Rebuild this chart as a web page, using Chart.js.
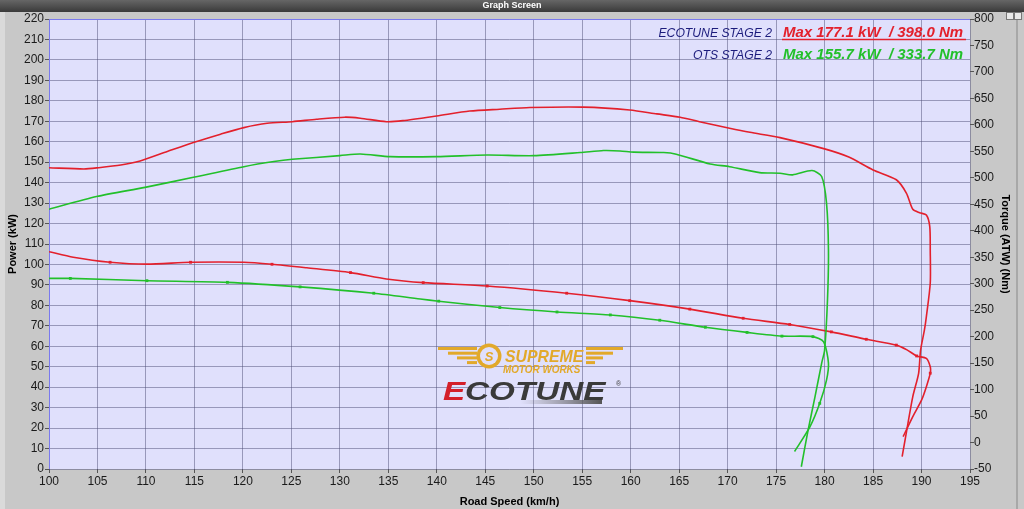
<!DOCTYPE html>
<html>
  <head>
    <title>Graph Screen</title>
    <meta charset="UTF-8" />
    <script src="https://cdn.jsdelivr.net/npm/chart.js@4.4.0/dist/chart.umd.min.js"></script>
    <style>
      html, body { margin: 0; padding: 0; background: #c8c8c8; }
      #wrap { width: 1024px; height: 509px; }
    </style>
  </head>
  <body>
    <div id="wrap"><canvas id="myChart" width="1024" height="509"></canvas></div>
    <script>
      // ECOTUNE STAGE 2 - power (kW)
      var ecoPowerSpeed = [100, 103.6, 105.1, 107.4, 109.4, 112.2, 114.9, 117.7, 120.1, 122.5, 125.1, 127.6, 130.5, 132.1, 134.8, 136.5, 140, 143.4, 146.5, 149.6, 155.1, 159.9, 162.7, 165.1, 167.1, 170.2, 172.3, 175.4, 180, 182.5, 185, 187.4, 188.45, 189.1, 189.8, 190.5, 190.85, 190.9, 190.9, 190.5, 190.3, 189.9, 189.7, 189.1, 188.6, 188.0];
      var ecoPowerKw = [147.3, 146.7, 147.3, 148.6, 150.6, 155.2, 159.6, 163.7, 166.9, 169, 169.8, 171, 172, 171.5, 169.8, 170.3, 172.6, 175, 175.9, 176.7, 176.9, 175.5, 173.6, 172, 169.8, 166.6, 164.6, 162, 156.5, 152.5, 146.2, 141.4, 134.8, 127, 125.3, 124.2, 118.5, 107, 90.8, 74.5, 68, 58, 46.8, 35.4, 22.3, 6];

      // ECOTUNE STAGE 2 - torque (Nm)
      var ecoTorqueSpeed = [100, 102.5, 106.3, 110.1, 114.6, 120.1, 123, 126.6, 131.1, 134.8, 138.6, 145.2, 153.4, 159.9, 166.1, 171.6, 176.4, 180.7, 184.3, 187.4, 188.5, 189.5, 190.5, 190.9, 190.9, 190.5, 190, 189.1, 188.1];
      var ecoTorqueNm = [360.5, 350, 340.5, 337, 340.5, 340.5, 336.7, 330, 321, 309, 302, 295.7, 282, 268, 252, 234.7, 223, 209, 195, 184, 175, 163.5, 159, 143, 131, 105.5, 80, 49, 11];
      var ecoTorqueMarks = [2, 4, 6, 8, 10, 11, 12, 13, 14, 15, 16, 17, 18, 19, 21, 24];

      // OTS STAGE 2 - power (kW)
      var otsPowerSpeed = [100, 104.9, 109.9, 114.9, 120.1, 123.2, 125.1, 130, 132.1, 135.2, 140, 145.2, 150, 154.8, 157.2, 158.9, 160.3, 163.4, 164.7, 168.2, 170.2, 173.3, 175.4, 176.7, 178.7, 179.7, 180.2, 180.4, 180.3, 180, 179.7, 179, 178.3, 177.6];
      var otsPowerKw = [127, 133.2, 137.7, 142.6, 147.8, 150.3, 151.4, 153.2, 154, 152.7, 152.7, 153.5, 153.2, 154.7, 155.7, 155.5, 154.9, 154.7, 153.9, 149.1, 147.8, 144.9, 144.6, 143.8, 145.9, 143, 130, 107, 82.6, 58, 51.8, 35, 19, 1.1];

      // OTS STAGE 2 - torque (Nm)
      var otsTorqueSpeed = [100, 102.2, 110.1, 118.4, 125.9, 133.5, 138.3, 140.2, 146.5, 152.4, 157.9, 163, 167.7, 172, 175.6, 178.8, 179.9, 180.4, 180.2, 179.5, 178.5, 176.9];
      var otsTorqueNm = [310, 310, 305.7, 302.6, 294, 282, 271, 267, 255, 246.6, 241, 231, 217.7, 208, 201, 200, 190, 150, 118, 74, 30, -17];
      var otsTorqueMarks = [1, 2, 3, 4, 5, 7, 8, 9, 10, 11, 12, 13, 14, 15, 19];

      var legendNames = ["ECOTUNE STAGE 2", "OTS STAGE 2"];
      var legendMax = ["Max 177.1 kW  / 398.0 Nm", "Max 155.7 kW  / 333.7 Nm"];

      var RED = "#e3202c";
      var GREEN = "#22c02a";
      var FONT = "'Liberation Sans', Arial, sans-serif";

      function pts(xs, ys) {
        var out = [];
        for (var i = 0; i < xs.length; i++) out.push({ x: xs[i], y: ys[i] });
        return out;
      }
      function marks(list) {
        return function(ctx) { return list.indexOf(ctx.dataIndex) >= 0 ? 2 : 0; };
      }
      function wideText(c, txt, x, y, sx) {
        c.save();
        c.translate(x, y);
        c.scale(sx, 1);
        c.fillText(txt, 0, 0);
        c.restore();
      }

      // background, title bar, legend text and logo
      var decor = {
        id: "decor",
        beforeDraw: function(chart) {
          var c = chart.ctx, a = chart.chartArea;
          c.save();
          c.fillStyle = "#c8c8c8";
          c.fillRect(0, 0, 1024, 509);
          c.fillStyle = "#dadada";
          c.fillRect(0, 12, 5, 497);
          c.fillStyle = "#a8a8a8";
          c.fillRect(1016, 12, 2, 497);
          var g = c.createLinearGradient(0, 0, 0, 12);
          g.addColorStop(0, "#666");
          g.addColorStop(1, "#3a3a3a");
          c.fillStyle = g;
          c.fillRect(0, 0, 1024, 12);
          c.fillStyle = "#fff";
          c.font = "bold 9px " + FONT;
          c.textAlign = "center";
          c.textBaseline = "middle";
          c.fillText("Graph Screen", 512, 6);
          // window buttons
          c.fillStyle = "#e8e8e8";
          c.strokeStyle = "#777";
          c.fillRect(1006, 12, 7, 7);
          c.strokeRect(1006.5, 12.5, 7, 7);
          c.fillRect(1014, 12, 7, 7);
          c.strokeRect(1014.5, 12.5, 7, 7);
          c.fillStyle = "#e0e0fc";
          c.fillRect(a.left, a.top, a.right - a.left, a.bottom - a.top);
          c.restore();
        },
        beforeDatasetsDraw: function(chart) {
          var c = chart.ctx, a = chart.chartArea;
          c.save();
          // plot border
          c.strokeStyle = "#7a7aee";
          c.lineWidth = 1;
          c.beginPath();
          c.moveTo(a.left + 0.5, a.bottom);
          c.lineTo(a.left + 0.5, a.top + 0.5);
          c.lineTo(a.right, a.top + 0.5);
          c.stroke();

          // logo
          var gold = "#e2a92a";
          c.fillStyle = gold;
          var leftStart = [438, 448, 457, 467];
          var rightEnd = [623, 613, 603, 595];
          for (var i = 0; i < 4; i++) {
            var yy = 347 + i * 4.7;
            c.fillRect(leftStart[i], yy, 477 - leftStart[i], 3);
            c.fillRect(586, yy, rightEnd[i] - 586, 3);
          }
          c.beginPath();
          c.arc(489, 356, 12.5, 0, Math.PI * 2);
          c.fill();
          c.fillStyle = "#e0e0fc";
          c.beginPath();
          c.arc(489, 356, 9, 0, Math.PI * 2);
          c.fill();
          c.fillStyle = gold;
          c.font = "italic bold 13px " + FONT;
          c.textAlign = "center";
          c.textBaseline = "middle";
          c.fillText("S", 489, 357);
          c.textAlign = "left";
          c.textBaseline = "alphabetic";
          c.font = "italic bold 17px " + FONT;
          wideText(c, "SUPREME", 505, 362, 0.93);
          c.font = "italic bold 11px " + FONT;
          wideText(c, "MOTOR WORKS", 503, 373, 0.9);
          c.font = "italic bold 25px " + FONT;
          c.fillStyle = "#d41f2a";
          wideText(c, "E", 443, 400, 1.33);
          c.fillStyle = "#3a3a3a";
          wideText(c, "COTUNE", 465, 400, 1.33);
          c.font = "7px " + FONT;
          c.fillText("\u00ae", 616, 386);
          var gb = c.createLinearGradient(520, 0, 602, 0);
          gb.addColorStop(0, "rgba(110,110,110,0)");
          gb.addColorStop(1, "#555");
          c.fillStyle = gb;
          c.fillRect(520, 400, 82, 4);

          // legend
          c.textBaseline = "alphabetic";
          c.textAlign = "right";
          c.font = "italic 12.2px " + FONT;
          c.fillStyle = "#1c1c7c";
          c.fillText(legendNames[0], 772, 37);
          c.fillText(legendNames[1], 772, 59);
          c.textAlign = "left";
          c.font = "italic bold 15px " + FONT;
          c.fillStyle = RED;
          c.fillText(legendMax[0], 783, 37);
          c.fillStyle = GREEN;
          c.fillText(legendMax[1], 783, 59);
          c.strokeStyle = RED;
          c.lineWidth = 1.5;
          c.beginPath();
          c.moveTo(782, 39.5);
          c.lineTo(966, 39.5);
          c.stroke();
          c.restore();
        }
      };

      var ctx = document.getElementById("myChart").getContext("2d");
      var chart = new Chart(ctx, {
        type: "line",
        data: {
          datasets: [
            {
              label: "ECOTUNE STAGE 2 Power",
              data: pts(ecoPowerSpeed, ecoPowerKw),
              borderColor: RED,
              yAxisID: "y",
              pointRadius: 0
            },
            {
              label: "OTS STAGE 2 Power",
              data: pts(otsPowerSpeed, otsPowerKw),
              borderColor: GREEN,
              yAxisID: "y",
              pointRadius: 0
            },
            {
              label: "ECOTUNE STAGE 2 Torque",
              data: pts(ecoTorqueSpeed, ecoTorqueNm),
              borderColor: RED,
              backgroundColor: RED,
              yAxisID: "y2",
              pointRadius: marks(ecoTorqueMarks)
            },
            {
              label: "OTS STAGE 2 Torque",
              data: pts(otsTorqueSpeed, otsTorqueNm),
              borderColor: GREEN,
              backgroundColor: GREEN,
              yAxisID: "y2",
              pointRadius: marks(otsTorqueMarks)
            }
          ]
        },
        options: {
          responsive: false,
          animation: false,
          devicePixelRatio: 1,
          events: [],
          layout: { padding: { top: 19, left: 0, right: 0, bottom: 0 } },
          elements: {
            line: { borderWidth: 1.6, tension: 0.25, fill: false },
            point: { borderWidth: 0, pointStyle: "rect" }
          },
          plugins: { legend: { display: false }, tooltip: { enabled: false } },
          scales: {
            x: {
              type: "linear",
              min: 100,
              max: 195,
              afterFit: function(s) { s.height = 40; },
              ticks: { stepSize: 5, color: "#1a1a1a", font: { family: FONT, size: 12 }, padding: 1, maxRotation: 0 },
              grid: { color: "rgba(80,80,120,0.5)", tickLength: 4, tickColor: "#555" },
              border: { display: false },
              title: { display: true, text: "Road Speed (km/h)", color: "#000", font: { family: FONT, size: 11, weight: "bold" }, padding: { top: 3, bottom: 0 } }
            },
            y: {
              position: "left",
              min: 0,
              max: 220,
              afterFit: function(s) { s.width = 49; },
              ticks: { stepSize: 10, color: "#1a1a1a", font: { family: FONT, size: 12 }, padding: 1 },
              grid: { color: "rgba(80,80,120,0.5)", tickLength: 4, tickColor: "#555" },
              border: { display: false },
              title: { display: true, text: "Power (kW)", color: "#000", font: { family: FONT, size: 11, weight: "bold" }, padding: { top: 6.5, bottom: 0 } }
            },
            y2: {
              position: "right",
              min: -50,
              max: 800,
              afterFit: function(s) { s.width = 54; },
              ticks: { stepSize: 50, color: "#1a1a1a", font: { family: FONT, size: 12 }, padding: 0 },
              grid: { drawOnChartArea: false, tickLength: 4, tickColor: "#555" },
              border: { display: false },
              title: { display: true, text: "Torque (ATW) (Nm)", color: "#000", font: { family: FONT, size: 11, weight: "bold" }, padding: { top: 12.5, bottom: 0 } }
            }
          }
        },
        plugins: [decor]
      });
    </script>
  </body>
</html>
